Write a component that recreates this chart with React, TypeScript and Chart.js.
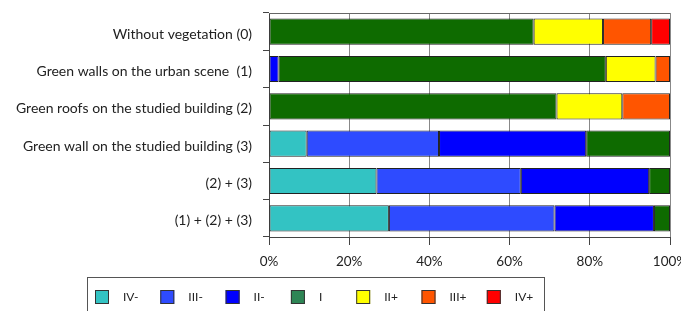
import React, { useEffect, useRef } from "react";
import { Chart, registerables } from "chart.js";

Chart.register(...registerables);

const categories = [
  "Without vegetation (0)",
  "Green walls on the urban scene  (1)",
  "Green roofs on the studied building (2)",
  "Green wall on the studied building (3)",
  "(2) + (3)",
  "(1) + (2) + (3)",
];

const seriesLabels = ["IV-", "III-", "II-", "I", "II+", "III+", "IV+"];

const ivMinus = [null, null, null, 9.4, 26.8, 29.9];
const iiiMinus = [null, null, null, 33.0, 36.0, 41.3];
const iiMinus = [null, 2.4, null, 36.7, 32.0, 24.8];
const one = [66.0, 81.6, 71.7, 20.9, 5.2, 4.0];
const iiPlus = [17.3, 12.4, 16.4, null, null, null];
const iiiPlus = [12.0, 3.6, 11.9, null, null, null];
const ivPlus = [4.7, null, null, null, null, null];

const xTicks = [0, 20, 40, 60, 80, 100];

const barColors = ["#33C3C3", "#2E4BFF", "#0000FF", "#0E6B00", "#FFFF00", "#FF5500", "#FF0000"];
const legendColors = ["#33C3C3", "#2E4BFF", "#0000FF", "#2E8555", "#FFFF00", "#FF5500", "#FF0000"];

const FONT = "Lato, 'Noto Sans', sans-serif";

const frameAndLegend = {
  id: "frameAndLegend",
  afterDraw(chart: any) {
    const { ctx, chartArea } = chart;
    ctx.save();
    ctx.strokeStyle = "#666";
    ctx.lineWidth = 1;
    ctx.beginPath();
    ctx.moveTo(chartArea.left, Math.round(chartArea.top) + 0.5);
    ctx.lineTo(chartArea.right, Math.round(chartArea.top) + 0.5);
    ctx.stroke();

    ctx.strokeStyle = "#555";
    ctx.strokeRect(87.5, 277.5, 457, 40);
    const step = 65.3;
    ctx.font = "12px " + FONT;
    ctx.textBaseline = "middle";
    ctx.textAlign = "left";
    chart.data.datasets.forEach((ds: any, i: number) => {
      const x = 95 + i * step;
      const y = 290;
      ctx.fillStyle = legendColors[i];
      ctx.fillRect(x, y, 14, 14);
      ctx.strokeStyle = "#333";
      ctx.strokeRect(x + 0.5, y + 0.5, 13, 13);
      ctx.fillStyle = "#222";
      ctx.fillText(ds.label, x + 28, y + 7.5);
    });
    ctx.restore();
  },
};

export default function App() {
  const ref = useRef<HTMLCanvasElement>(null);
  useEffect(() => {
    const seriesData = [ivMinus, iiiMinus, iiMinus, one, iiPlus, iiiPlus, ivPlus];
    const chart = new Chart(ref.current!, {
      type: "bar",
      data: {
        labels: categories,
        datasets: seriesLabels.map((label, i) => ({
          label,
          data: seriesData[i],
          backgroundColor: barColors[i],
          borderColor: "#222",
          borderWidth: 1,
          borderSkipped: false,
          categoryPercentage: 1,
          barPercentage: 0.7,
        })),
      },
      options: {
        indexAxis: "y",
        responsive: false,
        animation: false,
        layout: { padding: { left: 0, right: 11, top: 13, bottom: 0 } },
        plugins: { legend: { display: false }, tooltip: { enabled: false } },
        scales: {
          x: {
            stacked: true,
            min: 0,
            max: 100,
            afterBuildTicks: (scale: any) => {
              scale.ticks = xTicks.map((v) => ({ value: v }));
            },
            afterFit: (scale: any) => {
              scale.height = 74;
              scale.paddingRight = 0;
              scale.paddingLeft = 0;
            },
            ticks: {
              callback: (v: any) => v + "%",
              color: "#222",
              font: { family: FONT, size: 13.5 },
              padding: 9,
              maxRotation: 0,
            },
            grid: { color: "#888", lineWidth: 1, tickLength: 8, tickColor: "#444" },
            border: { color: "#444", width: 1 },
          },
          y: {
            stacked: true,
            afterFit: (scale: any) => {
              scale.width = 269;
              scale.paddingTop = 0;
              scale.paddingBottom = 0;
            },
            ticks: {
              color: "#222",
              font: { family: FONT, size: 14 },
              padding: 11,
              labelOffset: 2.5,
            },
            grid: { drawOnChartArea: false, tickLength: 6, color: "#444", offset: true },
            border: { color: "#444", width: 1 },
          },
        },
      },
      plugins: [frameAndLegend],
    });
    return () => chart.destroy();
  }, []);
  return (
    <div style={{ position: "fixed", left: 0, top: 0, width: 681, height: 311, background: "#fff" }}>
      <canvas ref={ref} width={681} height={311} />
    </div>
  );
}
